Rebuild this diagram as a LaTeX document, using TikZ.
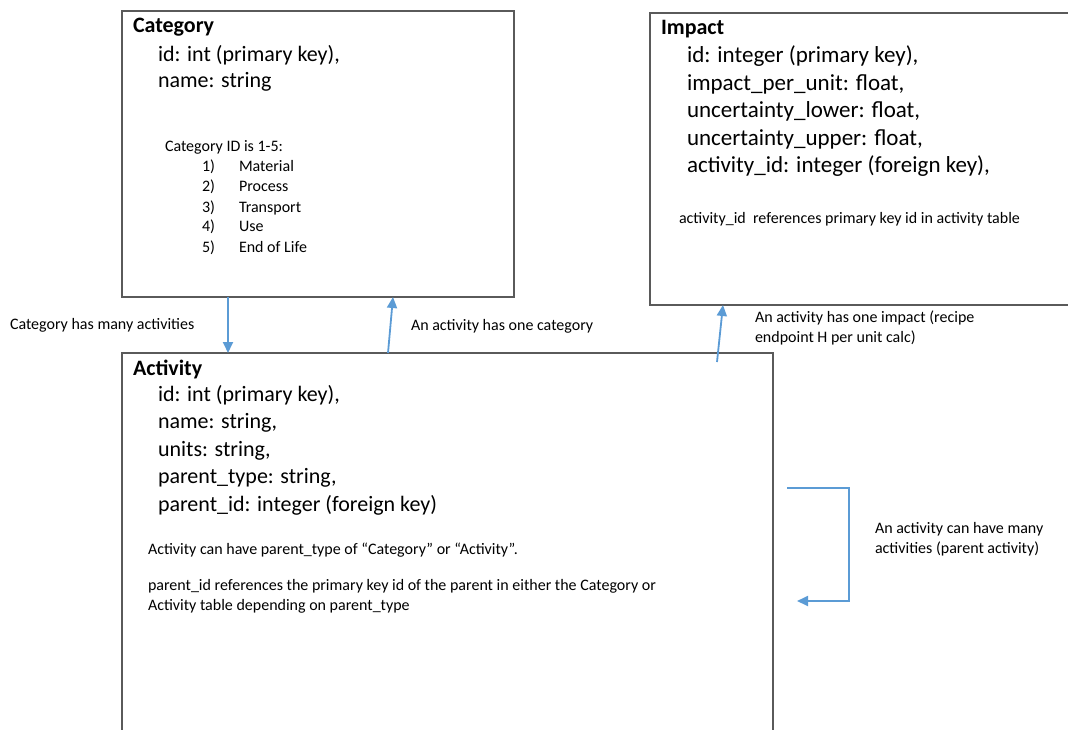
\documentclass[tikz,border=0pt]{standalone}
\usepackage{fontspec}
\setmainfont{Carlito}
\usetikzlibrary{arrows.meta,positioning}
\definecolor{boxgray}{HTML}{5A5A5A}
\definecolor{linkblue}{HTML}{5B9BD5}
\tikzset{
  table/.style={rectangle, draw=boxgray, line width=1.2pt, anchor=north west},
  title/.style={anchor=base west, font=\fontsize{22}{26}\selectfont\bfseries},
  field/.style={anchor=base west, font=\fontsize{22}{26}\selectfont},
  note/.style={anchor=base west, font=\fontsize{16}{20}\selectfont},
  link/.style={draw=linkblue, line width=1.8pt, -{Triangle[length=11pt, width=10pt]}},
}
\begin{document}
\begin{tikzpicture}[x=1pt, y=-1pt, inner sep=0, outer sep=0]
  \clip (0,0) rectangle (1068,730);

  % the three tables
  \node[table, minimum width=392pt, minimum height=286pt] (cat) at (122,11) {};
  \node[table, minimum width=420pt, minimum height=292pt] (imp) at (650,13) {};
  \node[table, minimum width=651pt, minimum height=420pt] (act) at (122,353) {};

  % Category
  \node[title] (cat0) at ([xshift=11pt, yshift=-22pt]cat.north west) {Category};
  \node[field] (cat1) at ([xshift=25pt, yshift=-29pt]cat0.base west) {id: int (primary key),};
  \node[field] (cat2) at ([yshift=-26pt]cat1.base west) {name: string};
  \node[note] (catn) at ([xshift=7pt, yshift=-64pt]cat2.base west) {Category ID is 1-5:};
  \node[note] (num1) at ([xshift=37pt, yshift=-20pt]catn.base west) {1)};
  \node[note] (num2) at ([yshift=-20pt]num1.base west) {2)};
  \node[note] (num3) at ([yshift=-20pt]num2.base west) {3)};
  \node[note] (num4) at ([yshift=-20pt]num3.base west) {4)};
  \node[note] (num5) at ([yshift=-20pt]num4.base west) {5)};
  \node[note] (item1) at ([xshift=37pt]num1.base west) {Material};
  \node[note] (item2) at ([xshift=37pt]num2.base west) {Process};
  \node[note] (item3) at ([xshift=37pt]num3.base west) {Transport};
  \node[note] (item4) at ([xshift=37pt]num4.base west) {Use};
  \node[note] (item5) at ([xshift=37pt]num5.base west) {End of Life};

  % Impact
  \node[title] (imp0) at ([xshift=11pt, yshift=-22pt]imp.north west) {Impact};
  \node[field, font=\fontsize{23}{27}\selectfont] (imp1) at ([xshift=26pt, yshift=-28pt]imp0.base west) {id: integer (primary key),};
  \node[field, font=\fontsize{23}{27}\selectfont] (imp2) at ([yshift=-27.5pt]imp1.base west) {impact\_per\_unit: float,};
  \node[field, font=\fontsize{23}{27}\selectfont] (imp3) at ([yshift=-27.5pt]imp2.base west) {uncertainty\_lower: float,};
  \node[field, font=\fontsize{23}{27}\selectfont] (imp4) at ([yshift=-27.5pt]imp3.base west) {uncertainty\_upper: float,};
  \node[field, font=\fontsize{23}{27}\selectfont] (imp5) at ([yshift=-27.5pt]imp4.base west) {activity\_id: integer (foreign key),};
  \node[note] (impn) at ([xshift=-8pt, yshift=-50pt]imp5.base west) {activity\_id\ \ references primary key id in activity table};

  % Activity
  \node[title] (act0) at ([xshift=11pt, yshift=-22pt]act.north west) {Activity};
  \node[field] (act1) at ([xshift=25pt, yshift=-26pt]act0.base west) {id: int (primary key),};
  \node[field] (act2) at ([yshift=-27.5pt]act1.base west) {name: string,};
  \node[field] (act3) at ([yshift=-27.5pt]act2.base west) {units: string,};
  \node[field] (act4) at ([yshift=-27.5pt]act3.base west) {parent\_type: string,};
  \node[field] (act5) at ([yshift=-27.5pt]act4.base west) {parent\_id: integer (foreign key)};
  \node[note] (actn1) at ([xshift=-10pt, yshift=-43pt]act5.base west) {Activity can have parent\_type of “Category” or “Activity”.};
  \node[note] (actn2) at ([yshift=-36pt]actn1.base west) {parent\_id references the primary key id of the parent in either the Category or};
  \node[note] (actn3) at ([yshift=-20pt]actn2.base west) {Activity table depending on parent\_type};

  % relations
  \draw[link] ([xshift=106pt]cat.south west) -- ([xshift=106pt]act.north west);
  \draw[link] ([xshift=266pt]act.north west) -- ([xshift=271pt]cat.south west);
  \draw[link] ([xshift=595pt, yshift=-9pt]act.north west) -- ([xshift=73pt]imp.south west);
  \draw[link] ([xshift=14pt, yshift=-135pt]act.north east) -- ++(62pt,0pt) -- ++(0pt,-113pt)
    -- ([xshift=24pt, yshift=-248pt]act.north east);

  \node[note] (lbl1) at (10,329) {Category has many activities};
  \node[note] (lbl2) at (411,330) {An activity has one category};
  \node[note] (lbl3) at (755,322) {An activity has one impact (recipe};
  \node[note] (lbl3b) at ([yshift=-20pt]lbl3.base west) {endpoint H per unit calc)};
  \node[note] (lbl4) at (875,533) {An activity can have many};
  \node[note] (lbl4b) at ([yshift=-20pt]lbl4.base west) {activities (parent activity)};
\end{tikzpicture}
\end{document}
